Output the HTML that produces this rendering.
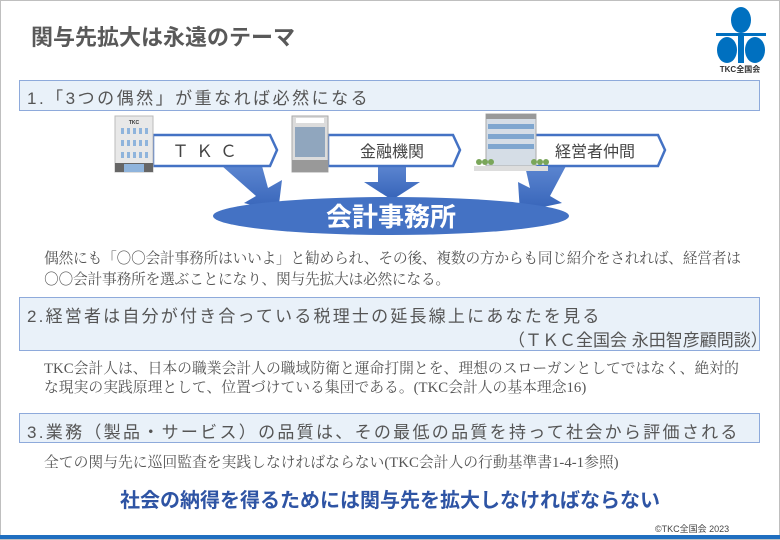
<!DOCTYPE html>
<html><head><meta charset="utf-8"><style>
*{margin:0;padding:0;box-sizing:border-box}
body{width:780px;height:540px;background:#fff;position:relative;overflow:hidden;font-family:"Liberation Sans","Noto Sans CJK JP",sans-serif}
.frame{position:absolute;left:0;top:0;width:780px;height:540px;border:1px solid #bfbfbf}
.t{position:absolute;white-space:nowrap}
.box{position:absolute;left:19px;width:741px;background:#e9f1f9;border:1.5px solid #8eaadb}
.h{font-family:"Liberation Sans","Noto Sans CJK JP",sans-serif;color:#555;font-size:17px}
.p{font-family:"Liberation Serif","Noto Serif CJK SC",serif;color:#555;font-size:14.8px;line-height:19px}
.c{font-family:"Noto Serif CJK SC",serif}
</style></head><body>
<div class="frame"></div>
<div class="t" style="left:31px;top:20px;font-size:22px;color:#595959;font-weight:bold">関与先拡大は永遠のテーマ</div>
<svg style="position:absolute;left:708px;top:6px" width="64" height="68" viewBox="0 0 64 68">
<ellipse cx="33" cy="14" rx="10" ry="13" fill="#0070c0"/>
<ellipse cx="19" cy="44" rx="10" ry="13" fill="#0070c0"/>
<ellipse cx="47" cy="44" rx="10" ry="13" fill="#0070c0"/>
<rect x="8" y="27" width="50" height="3" fill="#0070c0"/>
<rect x="30" y="27" width="6" height="30" fill="#0070c0"/>
<text x="32" y="66" font-size="8" text-anchor="middle" font-weight="bold" fill="#333" font-family="Liberation Sans,Noto Sans CJK JP,sans-serif">TKC全国会</text>
</svg>
<div class="box" style="top:80px;height:31px"></div>
<div class="t h" style="left:27px;top:84px;letter-spacing:2.5px">1.「3つの偶然」が重なれば必然になる</div>

<svg style="position:absolute;left:0;top:110px" width="780" height="130" viewBox="0 110 780 130">
<defs><linearGradient id="g" x1="0" y1="0" x2="0" y2="1"><stop offset="0" stop-color="#5b85d0"/><stop offset="1" stop-color="#3563b8"/></linearGradient></defs>
<path d="M222 166 L262 166 L268 188 L282 180 L278 212 L244 203 L256 196 Z" fill="url(#g)"/>
<path d="M378 166 L406 166 L406 182 L420 182 L392 200 L364 182 L378 182 Z" fill="url(#g)"/>
<path d="M525 166 L566 166 L550 196 L562 203 L520 212 L518 182 L530 188 Z" fill="url(#g)"/>
<ellipse cx="391" cy="216" rx="178" ry="19" fill="#4472c4"/>
<text x="391" y="226" text-anchor="middle" font-size="26" font-weight="bold" fill="#fff" font-family="Liberation Sans,Noto Sans CJK JP,sans-serif">会計事務所</text>
<path d="M153 135 L270 135 L277 150 L270 166 L153 166 Z" fill="#fff" stroke="#4472c4" stroke-width="2.5"/>
<path d="M328 135 L453 135 L460 150 L453 166 L328 166 Z" fill="#fff" stroke="#4472c4" stroke-width="2.5"/>
<path d="M535 135 L658 135 L665 150 L658 166 L535 166 Z" fill="#fff" stroke="#4472c4" stroke-width="2.5"/>
<text x="208" y="157" text-anchor="middle" font-size="17" fill="#444" letter-spacing="7" font-family="Liberation Sans,Noto Sans CJK JP,sans-serif">ＴＫＣ</text>
<text x="392" y="157" text-anchor="middle" font-size="16" fill="#444" font-family="Liberation Sans,Noto Sans CJK JP,sans-serif">金融機関</text>
<text x="595" y="157" text-anchor="middle" font-size="16" fill="#444" font-family="Liberation Sans,Noto Sans CJK JP,sans-serif">経営者仲間</text>
<rect x="115" y="116" width="38" height="56" fill="#e8e8e8" stroke="#bbb"/>
<text x="134" y="124" text-anchor="middle" font-size="5" fill="#333" font-weight="bold">TKC</text>
<g fill="#8fb4dc"><rect x="121" y="128" width="3" height="6"/><rect x="127" y="128" width="3" height="6"/><rect x="133" y="128" width="3" height="6"/><rect x="139" y="128" width="3" height="6"/><rect x="145" y="128" width="3" height="6"/>
<rect x="121" y="140" width="3" height="6"/><rect x="127" y="140" width="3" height="6"/><rect x="133" y="140" width="3" height="6"/><rect x="139" y="140" width="3" height="6"/><rect x="145" y="140" width="3" height="6"/>
<rect x="121" y="152" width="3" height="6"/><rect x="127" y="152" width="3" height="6"/><rect x="133" y="152" width="3" height="6"/><rect x="139" y="152" width="3" height="6"/><rect x="145" y="152" width="3" height="6"/></g>
<rect x="115" y="163" width="38" height="9" fill="#666"/><rect x="124" y="164" width="20" height="8" fill="#8fb4dc"/>
<rect x="292" y="116" width="36" height="56" fill="#dcdcdc" stroke="#aaa"/>
<rect x="296" y="118" width="28" height="5" fill="#fff"/>
<rect x="295" y="127" width="30" height="30" fill="#6f8fb0" opacity="0.7"/>
<rect x="292" y="160" width="36" height="12" fill="#999"/>
<rect x="486" y="114" width="50" height="52" fill="#d5dde6" stroke="#aaa"/>
<rect x="486" y="114" width="50" height="5" fill="#999"/>
<g fill="#7fa6cf"><rect x="488" y="124" width="46" height="5"/><rect x="488" y="134" width="46" height="5"/><rect x="488" y="144" width="46" height="5"/></g>
<rect x="474" y="166" width="74" height="5" fill="#ddd"/>
<g fill="#7aa65a"><circle cx="479" cy="162" r="3"/><circle cx="485" cy="162" r="3"/><circle cx="491" cy="162" r="3"/><circle cx="534" cy="162" r="3"/><circle cx="540" cy="162" r="3"/><circle cx="546" cy="162" r="3"/></g>
</svg>

<div class="t p" style="left:44px;top:248px;letter-spacing:-0.3px">偶然にも「<span class="c">○○</span>会計事務所はいいよ」と勧められ、その後、複数の方からも同じ紹介をされれば、経営者は<br><span class="c">○○</span>会計事務所を選ぶことになり、関与先拡大は必然になる。</div>

<div class="box" style="top:297px;height:54px"></div>
<div class="t h" style="left:27px;top:302px;letter-spacing:2.2px">2.経営者は自分が付き合っている税理士の延長線上にあなたを見る</div>
<div class="t h" style="left:508px;top:326px">（ＴＫＣ全国会 永田智彦顧問談）</div>

<div class="t p" style="left:44px;top:360px">TKC会計人は、日本の職業会計人の職域防衛と運命打開とを、理想のスローガンとしてではなく、絶対的<br>な現実の実践原理として、位置づけている集団である。(TKC会計人の基本理念16)</div>

<div class="box" style="top:413px;height:30px"></div>
<div class="t h" style="left:27px;top:418px;letter-spacing:2.3px">3.業務（製品・サービス）の品質は、その最低の品質を持って社会から評価される</div>

<div class="t p" style="left:44px;top:454px">全ての関与先に巡回監査を実践しなければならない(TKC会計人の行動基準書1-4-1参照)</div>

<div class="t" style="left:0;width:780px;text-align:center;top:484px;font-size:20px;font-weight:bold;color:#2e54a4">社会の納得を得るためには関与先を拡大しなければならない</div>
<div class="t" style="left:655px;top:522px;font-size:9px;color:#444">©TKC全国会 2023</div>
<div style="position:absolute;left:0;top:535px;width:780px;height:4px;background:#1f6fc0"></div>
</body></html>
